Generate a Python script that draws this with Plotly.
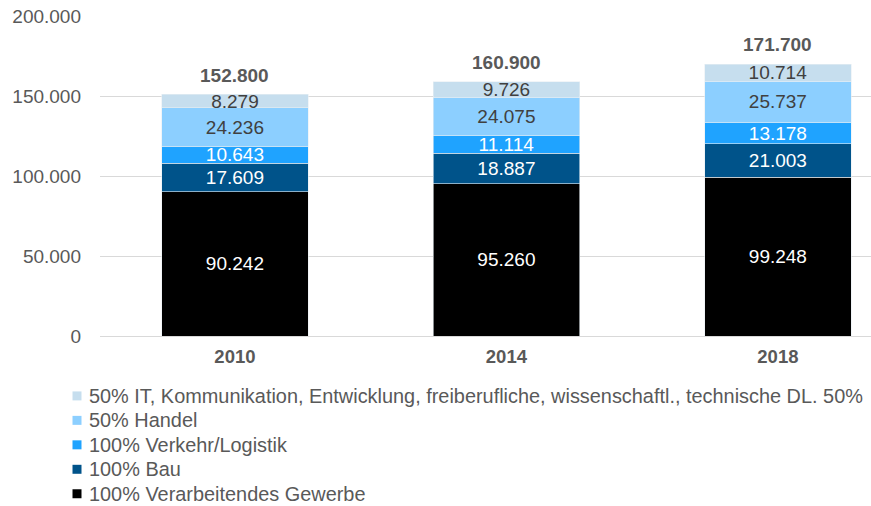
import plotly.graph_objects as go

years = ["2010", "2014", "2018"]

verarbeitendes = [90242, 95260, 99248]
bau = [17609, 18887, 21003]
verkehr = [10643, 11114, 13178]
handel = [24236, 24075, 25737]
it_dl = [8279, 9726, 10714]

totals = [152800, 160900, 171700]
total_labels = ["152.800", "160.900", "171.700"]

series = [
    ("100% Verarbeitendes Gewerbe", verarbeitendes, "#000000", "#ffffff"),
    ("100% Bau", bau, "#00538a", "#ffffff"),
    ("100% Verkehr/Logistik", verkehr, "#1fa3ff", "#ffffff"),
    ("50% Handel", handel, "#8ccfff", "#404040"),
    ("50% IT, Kommunikation, Entwicklung, freiberufliche, wissenschaftl., technische DL. 50%",
     it_dl, "#c6deee", "#404040"),
]

FONT = "Liberation Sans, Arial, sans-serif"
GREY = "#595959"

W, H = 871, 506
ML, MR, MT, MB = 100, 0, 16, 169.5
PLOT_W = W - ML - MR
PLOT_H = H - MT - MB


def px_to_paper(px, py):
    return (px - ML) / PLOT_W, (H - MB - py) / PLOT_H


fig = go.Figure()
for name, vals, color, tcolor in series:
    fig.add_trace(go.Bar(
        x=years, y=vals, name=name,
        marker=dict(color=color, line=dict(color="#e8eef3", width=0.6)),
        width=0.54,
        texttemplate="%{y:,.0f}",
        textposition="inside",
        insidetextanchor="middle",
        textangle=0,
        textfont=dict(family=FONT, size=19, color=tcolor),
        hoverinfo="skip",
        showlegend=False,
    ))

# Total labels above each stacked column (x given as category index)
for i, (tot, lab) in enumerate(zip(totals, total_labels)):
    fig.add_annotation(
        x=i, y=tot, xref="x", yref="y",
        text="<b>" + lab + "</b>", showarrow=False,
        yanchor="bottom", yshift=4,
        font=dict(family=FONT, size=19, color=GREY),
    )

# Legend below the plot: one row per series, top row = top segment
row_top, row_gap = 396.5, 24.5
for k, (name, _vals, color, _tc) in enumerate(reversed(series)):
    cy = row_top + k * row_gap
    x0, y0 = px_to_paper(72.5, cy - 4.5)
    x1, y1 = px_to_paper(81.5, cy + 4.5)
    fig.add_shape(type="rect", xref="paper", yref="paper",
                  x0=x0, x1=x1, y0=y0, y1=y1,
                  fillcolor=color, line=dict(width=0))
    tx, ty = px_to_paper(87, cy)
    fig.add_annotation(
        x=tx, y=ty, xref="paper", yref="paper",
        text=name, showarrow=False, xanchor="left", yanchor="middle",
        font=dict(family=FONT, size=19.9, color=GREY),
    )

fig.update_layout(
    width=W, height=H,
    margin=dict(l=ML, r=MR, t=MT, b=MB, autoexpand=False),
    barmode="stack",
    separators=",.",
    paper_bgcolor="white",
    plot_bgcolor="white",
    uniformtext=dict(minsize=19, mode="show"),
    font=dict(family=FONT, color=GREY),
    showlegend=False,
    xaxis=dict(
        type="category",
        range=[-0.497, 2.343],
        showgrid=False,
        showline=False,
        ticks="",
        tickfont=dict(family=FONT, size=18.5, color=GREY, weight="bold"),
        ticklabelstandoff=7,
    ),
    yaxis=dict(
        range=[0, 200000],
        tickvals=[0, 50000, 100000, 150000, 200000],
        tickformat=",.0f",
        showgrid=True,
        gridcolor="#d9d9d9",
        gridwidth=1,
        zeroline=True,
        zerolinecolor="#d9d9d9",
        zerolinewidth=1,
        showline=False,
        ticks="",
        tickfont=dict(family=FONT, size=19, color=GREY),
        ticklabelstandoff=18,
    ),
)

fig.write_html("out.html")
